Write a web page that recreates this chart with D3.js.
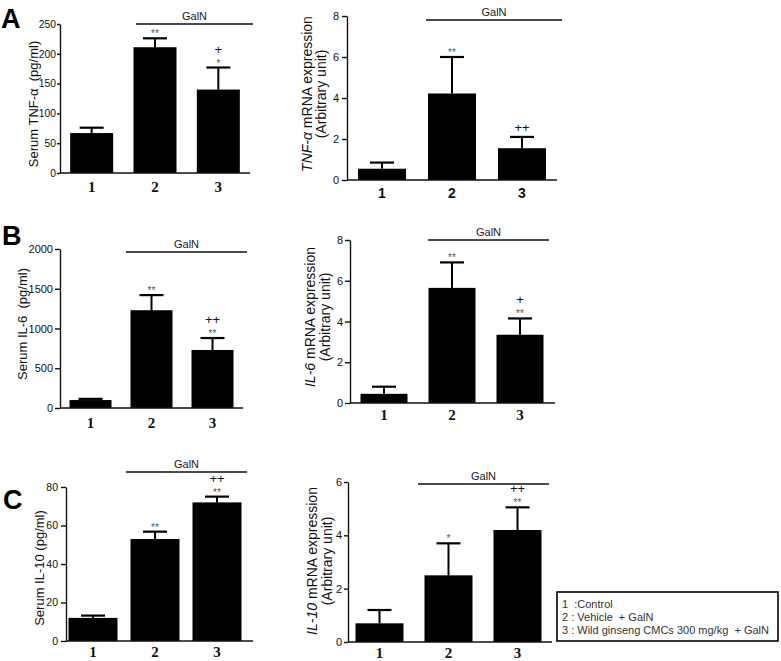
<!DOCTYPE html>
<html><head><meta charset="utf-8">
<script src="https://cdn.jsdelivr.net/npm/d3@7"></script>
<style>body{margin:0;background:#fff}svg{display:block}</style>
</head><body>
<svg id="c" width="781" height="661"></svg>
<script>
// ---------- data ----------
const categories = ["1", "2", "3"];

const serumTNF = [67, 211, 140];
const serumTNFErr = [9, 15, 37];
const serumTNFStars = ["", "**", "*"];
const serumTNFPlus = ["", "", "+"];
const serumTNFTicks = [0, 50, 100, 150, 200, 250];

const mrnaTNF = [0.55, 4.22, 1.55];
const mrnaTNFErr = [0.3, 1.78, 0.55];
const mrnaTNFStars = ["", "**", ""];
const mrnaTNFPlus = ["", "", "++"];
const mrnaTNFTicks = [0, 2, 4, 6, 8];

const serumIL6 = [100, 1230, 730];
const serumIL6Err = [15, 190, 150];
const serumIL6Stars = ["", "**", "**"];
const serumIL6Plus = ["", "", "++"];
const serumIL6Ticks = [0, 500, 1000, 1500, 2000];

const mrnaIL6 = [0.45, 5.65, 3.35];
const mrnaIL6Err = [0.35, 1.25, 0.8];
const mrnaIL6Stars = ["", "**", "**"];
const mrnaIL6Plus = ["", "", "+"];
const mrnaIL6Ticks = [0, 2, 4, 6, 8];

const serumIL10 = [12, 53, 72];
const serumIL10Err = [1.2, 3.8, 3];
const serumIL10Stars = ["", "**", "**"];
const serumIL10Plus = ["", "", "++"];
const serumIL10Ticks = [0, 20, 40, 60, 80];

const mrnaIL10 = [0.7, 2.5, 4.2];
const mrnaIL10Err = [0.5, 1.2, 0.85];
const mrnaIL10Stars = ["", "*", "**"];
const mrnaIL10Plus = ["", "", "++"];
const mrnaIL10Ticks = [0, 2, 4, 6];

const groupLabel = "GalN";
const panelLetters = ["A", "B", "C"];
const legendLines = ["1  :Control", "2 : Vehicle  + GalN", "3 : Wild ginseng CMCs 300 mg/kg  + GalN"];

// ---------- layout ----------
const panels = [
  {v: serumTNF, e: serumTNFErr, s: serumTNFStars, p: serumTNFPlus, ticks: serumTNFTicks,
   ax: 60, axEnd: 250, band: [60, 250], y0: 173, yTop: 24, barW: 43, labY: 192, serif: true,
   tk: {len: 3, pad: 1, fs: 10.3},
   galn: [136, 253, 24], ylab: {type: "left", x: 33, y: 104, parts: [["Serum TNF-", false], ["α", false], ["  (pg/ml)", false]]}},
  {v: mrnaTNF, e: mrnaTNFErr, s: mrnaTNFStars, p: mrnaTNFPlus, ticks: mrnaTNFTicks,
   ax: 347, axEnd: 557, band: [347, 557], y0: 180, yTop: 16, barW: 48, labY: 198, serif: false,
   tk: {len: 5, pad: 3, fs: 11},
   galn: [426, 562, 20], ylab: {type: "right", x1: 307, x2: 321, y: 94, parts: [["TNF-α", true], [" mRNA expression", false]]}},
  {v: serumIL6, e: serumIL6Err, s: serumIL6Stars, p: serumIL6Plus, ticks: serumIL6Ticks,
   ax: 60, axEnd: 243, band: [60, 243], y0: 408, yTop: 249, barW: 42, labY: 428, serif: true,
   tk: {len: 5, pad: 2, fs: 11},
   galn: [126, 247, 252], ylab: {type: "left", x: 22, y: 324, parts: [["Serum IL-6  (pg/ml)", false]]}},
  {v: mrnaIL6, e: mrnaIL6Err, s: mrnaIL6Stars, p: mrnaIL6Plus, ticks: mrnaIL6Ticks,
   ax: 350, axEnd: 555, band: [350, 554], y0: 403, yTop: 240, barW: 47, labY: 420, serif: true,
   tk: {len: 5, pad: 2, fs: 11},
   galn: [428, 549, 240], ylab: {type: "right", x1: 310, x2: 325, y: 317, parts: [["IL-6", true], [" mRNA expression", false]]}},
  {v: serumIL10, e: serumIL10Err, s: serumIL10Stars, p: serumIL10Plus, ticks: serumIL10Ticks,
   ax: 66, axEnd: 253, band: [62, 248], y0: 641, yTop: 487, barW: 49, labY: 657, serif: true,
   tk: {len: 5, pad: 3, fs: 10.5},
   galn: [126, 247, 472], ylab: {type: "left", x: 39, y: 568, parts: [["Serum IL-10 (pg/ml)", false]]}},
  {v: mrnaIL10, e: mrnaIL10Err, s: mrnaIL10Stars, p: mrnaIL10Plus, ticks: mrnaIL10Ticks,
   ax: 348, axEnd: 552, band: [345, 552], y0: 642, yTop: 482, barW: 48, labY: 658, serif: true,
   tk: {len: 4, pad: 2, fs: 11},
   galn: [418, 549, 484], ylab: {type: "right", x1: 312, x2: 327, y: 561, parts: [["IL-10", true], [" mRNA expression", false]]}}
];

const svg = d3.select("#c");
const SANS = "Arial, 'Liberation Sans', Helvetica, sans-serif";
const SERIF = "'Liberation Serif', 'Times New Roman', serif";

panels.forEach(P => {
  const g = svg.append("g");
  const dom = [P.ticks[0], P.ticks[P.ticks.length - 1]];
  const y = d3.scaleLinear().domain(dom).range([P.y0, P.yTop]);
  const x = d3.scaleBand().domain(categories).range(P.band).padding(0);
  const cx = c => x(c) + x.bandwidth() / 2;

  // bars
  g.selectAll("rect.bar").data(categories).enter().append("rect")
    .attr("x", c => cx(c) - P.barW / 2)
    .attr("width", P.barW)
    .attr("y", (c, i) => y(P.v[i]))
    .attr("height", (c, i) => P.y0 - y(P.v[i]))
    .attr("fill", "#000");

  // error bars (upper) and significance marks
  categories.forEach((c, i) => {
    const top = y(P.v[i] + P.e[i]);
    g.append("line").attr("x1", cx(c)).attr("x2", cx(c))
      .attr("y1", y(P.v[i])).attr("y2", top).attr("stroke", "#000").attr("stroke-width", 2);
    g.append("line").attr("x1", cx(c) - 12).attr("x2", cx(c) + 12)
      .attr("y1", top).attr("y2", top).attr("stroke", "#000").attr("stroke-width", 2.2);
    if (P.s[i]) {
      g.append("text").attr("x", cx(c)).attr("y", top - 1)
        .attr("text-anchor", "middle").attr("font-family", SANS).attr("font-size", 10)
        .attr("fill", "#555").text(P.s[i]);
    }
    if (P.p[i]) {
      g.append("text").attr("x", cx(c)).attr("y", top - (P.s[i] ? 14 : 5))
        .attr("text-anchor", "middle").attr("font-family", SANS).attr("font-size", 13)
        .attr("fill", "#111").text(P.p[i]);
    }
  });

  // y axis
  const ya = g.append("g").attr("transform", `translate(${P.ax},0)`)
    .call(d3.axisLeft(y).tickValues(P.ticks).tickSize(P.tk.len).tickSizeOuter(0).tickPadding(P.tk.pad).tickFormat(d3.format("d")));
  ya.select(".domain").attr("stroke", "#111").attr("stroke-width", 1.4);
  ya.selectAll(".tick line").attr("stroke", "#111").attr("stroke-width", 1.4);
  ya.selectAll(".tick text").attr("font-family", SANS).attr("font-size", P.tk.fs).attr("fill", "#111");

  // x axis line
  g.append("line").attr("x1", P.ax).attr("x2", P.axEnd).attr("y1", P.y0).attr("y2", P.y0)
    .attr("stroke", "#111").attr("stroke-width", 1.4);
  const xa = g.append("g").attr("transform", `translate(0,${P.labY})`)
    .call(d3.axisBottom(x).tickSize(0).tickPadding(0));
  xa.select(".domain").remove();
  xa.selectAll(".tick text").attr("dy", 0)
    .attr("font-family", P.serif ? SERIF : SANS)
    .attr("font-weight", "bold").attr("font-size", P.serif ? 15 : 14).attr("fill", "#111");

  // GalN bracket
  g.append("line").attr("x1", P.galn[0]).attr("x2", P.galn[1]).attr("y1", P.galn[2]).attr("y2", P.galn[2])
    .attr("stroke", "#111").attr("stroke-width", 1.3);
  g.append("text").attr("x", (P.galn[0] + P.galn[1]) / 2).attr("y", P.galn[2] - 4)
    .attr("text-anchor", "middle").attr("font-family", SANS).attr("font-size", 11).attr("fill", "#222")
    .text(groupLabel);

  // y label
  const L = P.ylab;
  if (L.type === "left") {
    const t = g.append("text").attr("transform", `translate(${L.x},${L.y}) rotate(-90)`)
      .attr("text-anchor", "middle").attr("dy", "0.35em")
      .attr("font-family", SANS).attr("font-size", 13).attr("fill", "#111")
      .attr("xml:space", "preserve").style("white-space", "pre");
    L.parts.forEach(pt => t.append("tspan").attr("font-style", pt[1] ? "italic" : "normal").text(pt[0]));
  } else {
    const t = g.append("text").attr("transform", `translate(${L.x1},${L.y}) rotate(-90)`)
      .attr("text-anchor", "middle").attr("dy", "0.35em")
      .attr("font-family", SANS).attr("font-size", 14).attr("fill", "#111");
    L.parts.forEach(pt => t.append("tspan").attr("font-style", pt[1] ? "italic" : "normal").text(pt[0]));
    g.append("text").attr("transform", `translate(${L.x2},${L.y}) rotate(-90)`)
      .attr("text-anchor", "middle").attr("dy", "0.35em")
      .attr("font-family", SANS).attr("font-size", 14).attr("fill", "#111")
      .text("(Arbitrary unit)");
  }
});

// panel letters
const letterPos = [[1, 28], [2, 245], [3, 509]];
panelLetters.forEach((l, i) => {
  svg.append("text").attr("x", letterPos[i][0]).attr("y", letterPos[i][1])
    .attr("font-family", SANS).attr("font-weight", "bold").attr("font-size", 27).attr("fill", "#000").text(l);
});

// legend
svg.append("rect").attr("x", 557).attr("y", 592).attr("width", 221).attr("height", 49)
  .attr("fill", "none").attr("stroke", "#000").attr("stroke-width", 1.6);
legendLines.forEach((s, i) => {
  svg.append("text").attr("x", 562).attr("y", 608 + i * 13)
    .attr("font-family", SANS).attr("font-size", 11).attr("fill", "#333")
    .attr("xml:space", "preserve").style("white-space", "pre").text(s);
});
</script>
</body></html>
